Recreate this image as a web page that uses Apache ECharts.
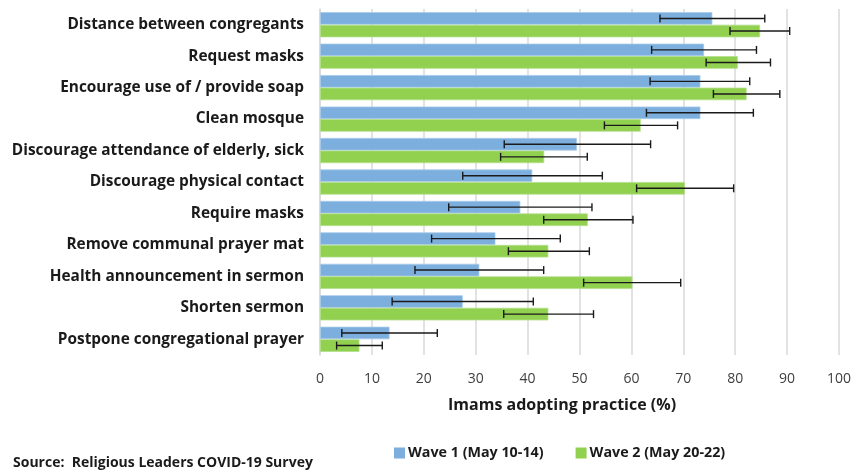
<!DOCTYPE html>
<html>
<head>
<meta charset="utf-8">
<script src="https://cdn.jsdelivr.net/npm/echarts@6/dist/echarts.min.js"></script>
<style>html,body{margin:0;padding:0;background:#fff}#c{width:855px;height:471px}</style>
</head>
<body>
<div id="c"></div>
<script>
const categories = [
  "Distance between congregants",
  "Request masks",
  "Encourage use of / provide soap",
  "Clean mosque",
  "Discourage attendance of elderly, sick",
  "Discourage physical contact",
  "Require masks",
  "Remove communal prayer mat",
  "Health announcement in sermon",
  "Shorten sermon",
  "Postpone congregational prayer"
];
const wave1 = [75.6, 74.0, 73.3, 73.3, 49.5, 40.9, 38.6, 33.8, 30.7, 27.5, 13.4];
const wave1Low = [65.5, 63.9, 63.6, 62.9, 35.5, 27.5, 24.8, 21.5, 18.3, 13.9, 4.2];
const wave1High = [85.7, 84.1, 82.8, 83.5, 63.7, 54.4, 52.4, 46.3, 43.1, 41.1, 22.6];
const wave2 = [84.8, 80.5, 82.2, 61.8, 43.2, 70.3, 51.6, 44.0, 60.2, 44.0, 7.6];
const wave2Low = [79.0, 74.4, 75.8, 54.8, 34.8, 61.0, 43.1, 36.3, 50.8, 35.4, 3.2];
const wave2High = [90.5, 86.8, 88.6, 68.9, 51.5, 79.7, 60.3, 51.9, 69.5, 52.7, 12.0];
const xTicks = [0, 10, 20, 30, 40, 50, 60, 70, 80, 90, 100];
const seriesNames = ["Wave 1 (May 10-14)", "Wave 2 (May 20-22)"];

const FONT = "'Open Sans', 'Noto Sans', sans-serif";
const BLUE = '#7cafde';
const GREEN = '#92d050';

function errData(lo, hi) {
  return categories.map((c, i) => [i, lo[i], hi[i]]);
}
function makeErr(offsetRatio) {
  return function (params, api) {
    const ci = api.value(0);
    const p1 = api.coord([api.value(1), ci]);
    const p2 = api.coord([api.value(2), ci]);
    const band = api.size([0, 1])[1];
    const y = p1[1] + band * offsetRatio;
    const cap = 4;
    const style = { stroke: '#1a1a1a', lineWidth: 1.4 };
    return {
      type: 'group',
      children: [
        { type: 'line', shape: { x1: p1[0], y1: y, x2: p2[0], y2: y }, style },
        { type: 'line', shape: { x1: p1[0], y1: y - cap, x2: p1[0], y2: y + cap }, style },
        { type: 'line', shape: { x1: p2[0], y1: y - cap, x2: p2[0], y2: y + cap }, style }
      ]
    };
  };
}

const chart = echarts.init(document.getElementById('c'), null, { renderer: 'canvas' });
chart.setOption({
  animation: false,
  textStyle: { fontFamily: FONT },
  grid: { left: 320, right: 16, top: 9, bottom: 116, containLabel: false },
  legend: {
    data: seriesNames,
    bottom: 6,
    left: 389,
    itemWidth: 11,
    itemHeight: 11,
    itemGap: 32,
    icon: 'rect',
    itemStyle: { borderWidth: 0 },
    textStyle: { fontFamily: FONT, fontWeight: 'bold', fontSize: 14.3, color: '#1a1a1a', padding: [0, 0, 0, -2] }
  },
  xAxis: {
    type: 'value',
    min: 0, max: 100, interval: 10,
    axisLine: { show: false },
    axisTick: { show: false },
    splitLine: { show: true, lineStyle: { color: '#d9d9d9', width: 1.5 } },
    axisLabel: { color: '#404040', fontSize: 14, fontFamily: FONT, margin: 17,
      formatter: v => xTicks.includes(v) ? String(v) : '' }
  },
  yAxis: {
    type: 'category',
    data: categories,
    inverse: true,
    axisLine: { show: true, lineStyle: { color: '#d9d9d9', width: 1.5 } },
    axisTick: { show: false },
    axisLabel: { color: '#1a1a1a', fontSize: 15.4, fontWeight: 'bold', fontFamily: FONT, margin: 16 }
  },
  graphic: [
    { type: 'text', left: 448, top: 397,
      style: { text: 'Imams adopting practice (%)', font: "bold 16px 'Open Sans', sans-serif", fill: '#1a1a1a' } },
    { type: 'text', left: 13, top: 456,
      style: { text: 'Source:  Religious Leaders COVID-19 Survey', font: "bold 14px 'Open Sans', sans-serif", fill: '#1a1a1a' } }
  ],
  series: [
    { name: seriesNames[0], type: 'bar', data: wave1, barGap: '0%', barCategoryGap: '20%',
      itemStyle: { color: BLUE, borderColor: '#a9cbea', borderWidth: 0.8 } },
    { name: seriesNames[1], type: 'bar', data: wave2, barGap: '0%', barCategoryGap: '20%',
      itemStyle: { color: GREEN, borderColor: '#b3e08a', borderWidth: 0.8 } },
    { type: 'custom', renderItem: makeErr(-0.2), data: errData(wave1Low, wave1High),
      encode: { x: [1, 2], y: 0 }, z: 10, silent: true },
    { type: 'custom', renderItem: makeErr(0.2), data: errData(wave2Low, wave2High),
      encode: { x: [1, 2], y: 0 }, z: 10, silent: true }
  ]
});
</script>
</body>
</html>
